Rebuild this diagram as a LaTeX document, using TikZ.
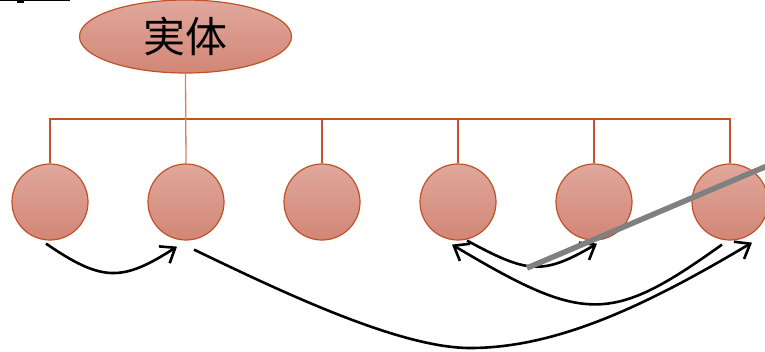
\documentclass[tikz,border=0pt]{standalone}
\usepackage{fontspec}
\newfontfamily\cjk{Noto Sans CJK SC}
\usetikzlibrary{arrows.meta,shapes.geometric}
\definecolor{ftop}{RGB}{224,168,156}
\definecolor{fbot}{RGB}{210,134,118}
\definecolor{edgec}{RGB}{192,82,40}
\definecolor{stemc}{RGB}{218,130,100}
\definecolor{barc}{RGB}{128,128,128}
\tikzset{
  entity/.style={ellipse, minimum width=212pt, minimum height=73pt, inner sep=0pt,
    draw=edgec, line width=1.2pt, top color=ftop, bottom color=fbot,
    font=\cjk\fontsize{42}{42}\selectfont},
  ball/.style={circle, minimum size=76pt, inner sep=0pt, draw=edgec, line width=1.2pt,
    top color=ftop, bottom color=fbot},
  busline/.style={draw=edgec, line width=1.5pt},
  stemline/.style={draw=stemc, line width=1.3pt},
  arr/.style={line width=2.6pt, -{Straight Barb[length=13pt,width=20pt]}},
  barline/.style={draw=barc, line width=5.5pt}
}
\begin{document}
\begin{tikzpicture}[x=1pt,y=-1pt]
\clip (0,0) rectangle (765,351);
\fill[white] (0,0) rectangle (765,351);
% fragment at top-left
\fill[black] (0,0) rectangle (70,1.2);
\fill[black] (17,0) rectangle (24,3);
% nodes
\node[entity] (e) at (185.5,36.5) {実体};
\foreach \i/\x in {1/50,2/186,3/322,4/458,5/594,6/730}
  \node[ball] (c\i) at (\x,202) {};
\coordinate (busy) at (0,119);
% tree lines
\draw[busline] (c1.north) -- (c1.north |- busy) -- (c6.north |- busy) -- (c6.north);
\foreach \i in {3,4,5}
  \draw[busline] (c\i.north) -- (c\i.north |- busy);
\draw[stemline] (e.south) -- (c2.north);
% arrows
\draw[arr] ([shift={(-4,3)}]c1.south) .. controls (102,282) and (122,282) .. ([shift={(-9,6)}]c2.south);
\draw[arr] ([shift={(8,9)}]c2.south) .. controls (284,293) and (400,348) .. (470,348)
   .. controls (560,348) and (652,302) .. ([shift={(22,2)}]c6.south);
\draw[arr] ([shift={(9,0)}]c4.south) .. controls (527,273) and (542,276) .. ([shift={(3,3)}]c5.south);
\draw[arr] ([shift={(-8,4)}]c6.south) .. controls (611,324) and (585,324) .. ([shift={(-6,4)}]c4.south);
% gray bar
\coordinate (g1) at (527,268);
\coordinate (g2) at (800,152);
\draw[barline] (g1) -- (g2);
\end{tikzpicture}
\end{document}
